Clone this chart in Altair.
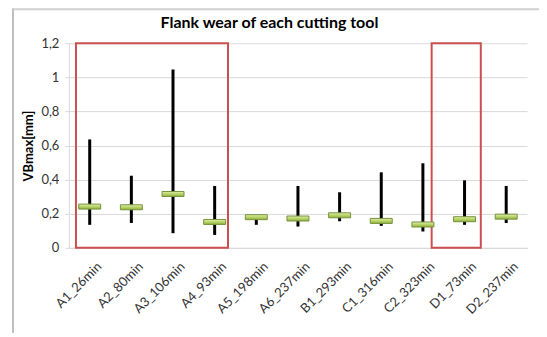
import altair as alt
import pandas as pd

tools = ["A1_26min", "A2_80min", "A3_106min", "A4_93min", "A5_198min", "A6_237min",
         "B1_293min", "C1_316min", "C2_323min", "D1_73min", "D2_237min"]
vb_mean = [0.242, 0.238, 0.316, 0.152, 0.180, 0.172, 0.191, 0.158, 0.137, 0.168, 0.183]
vb_min = [0.135, 0.146, 0.086, 0.076, 0.135, 0.125, 0.156, 0.129, 0.096, 0.135, 0.146]
vb_max = [0.636, 0.423, 1.046, 0.363, 0.190, 0.363, 0.326, 0.443, 0.496, 0.396, 0.363]

# highlighted groups (start/end in category index units, vertical span in mm)
box_x0 = [0.17, 8.71]
box_x1 = [3.82, 9.89]
box_y0 = [0.0, 0.0]
box_y1 = [1.2, 1.2]

y_ticks = [0, 0.2, 0.4, 0.6, 0.8, 1.0, 1.2]
title_text = "Flank wear of each cutting tool"

FONT = "Lato"

df = pd.DataFrame({
    "pos": [i + 0.5 for i in range(len(tools))],
    "tool": tools,
    "mean": vb_mean,
    "lo": vb_min,
    "hi": vb_max,
})
boxes = pd.DataFrame({"x0": box_x0, "x1": box_x1, "y0": box_y0, "y1": box_y1})

names_js = "[" + ",".join("'%s'" % t for t in tools) + "]"

x_scale = alt.Scale(domain=[0, len(tools)], nice=False, zero=False)
y_scale = alt.Scale(domain=[0, 1.2], nice=False)

x_axis = alt.Axis(
    values=[i + 0.5 for i in range(len(tools))],
    labelExpr=names_js + "[floor(datum.value)]",
    labelAngle=-45, labelAlign="right", labelBaseline="top",
    labelOverlap=False, labelBound=False,
    ticks=False, grid=False, domainColor="#d9d9d9", domainWidth=1,
    labelFont=FONT, labelFontSize=13, labelColor="#333333",
    labelPadding=12, labelOffset=5,
    title=None,
)
y_axis = alt.Axis(
    values=y_ticks,
    labelExpr="replace(format(datum.value, '~g'), '.', ',')",
    labelOverlap=False, labelBound=False,
    grid=True, gridColor="#d9d9d9", gridWidth=1,
    domainColor="#d9d9d9", tickColor="#d9d9d9", tickSize=4,
    labelFont=FONT, labelFontSize=13, labelColor="#333333", labelPadding=6,
    title="VBmax[mm]", titleFont=FONT, titleFontSize=13, titleFontWeight="bold",
    titleColor="#000000", titlePadding=5,
)

X = alt.X("pos:Q", scale=x_scale, axis=x_axis)

base = alt.Chart(df)

bars = base.mark_rule(color="#000000", strokeWidth=3).encode(
    x=X,
    y=alt.Y("lo:Q", scale=y_scale, axis=y_axis),
    y2="hi:Q",
)

markers = base.mark_tick(
    orient="horizontal", size=22, thickness=5,
    fill={"gradient": "linear", "x1": 0, "y1": 0, "x2": 0, "y2": 1,
          "stops": [{"offset": 0, "color": "#e2efb0"},
                    {"offset": 0.5, "color": "#b8d468"},
                    {"offset": 1, "color": "#8fb042"}]},
    stroke="#76923c", strokeWidth=1, opacity=1,
).encode(
    x=X,
    y=alt.Y("mean:Q", scale=y_scale, axis=y_axis),
)

rects = alt.Chart(boxes).mark_rect(
    fill="transparent", stroke="#c9504f", strokeWidth=2
).encode(
    x=alt.X("x0:Q", scale=x_scale, axis=x_axis),
    x2="x1:Q",
    y=alt.Y("y0:Q", scale=y_scale, axis=y_axis),
    y2="y1:Q",
)

one = df.head(1)
frame_left = alt.Chart(one).mark_rule(color="#bfbfbf", strokeWidth=2).encode(
    x=alt.value(-56), y=alt.value(-35), y2=alt.value(300)
)
frame_top = alt.Chart(one).mark_rule(color="#d0d0d0", strokeWidth=2).encode(
    x=alt.value(-56), x2=alt.value(480), y=alt.value(-34)
)
title = alt.Chart(one).mark_text(
    text=title_text, font=FONT, fontSize=16, fontWeight="bold", color="#000000",
    align="center", baseline="alphabetic",
).encode(x=alt.value(201), y=alt.value(-15))

chart = alt.layer(frame_left, frame_top, rects, bars, markers, title).properties(
    width=459, height=205,
    autosize=alt.AutoSizeParams(type="none"),
    padding={"left": 61, "top": 35, "right": 12, "bottom": 85},
).configure_view(stroke=None)

chart.save("out.html", embed_options={"renderer": "svg", "actions": False})
